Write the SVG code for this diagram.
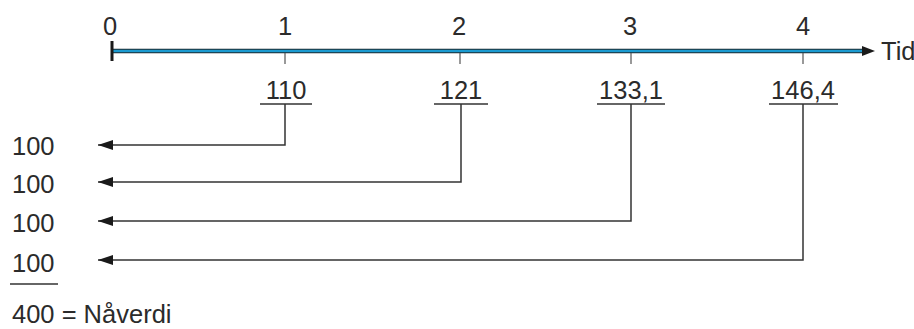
<svg xmlns="http://www.w3.org/2000/svg" width="914" height="329" viewBox="0 0 914 329">
  <style>
    text { font-family: "Liberation Sans", Arial, sans-serif; font-size: 25.5px; fill: #2b2b2b; }
    .mid { text-anchor: middle; }
    .rule { stroke: #333; stroke-width: 1.5; fill: none; }
    .link { stroke: #333; stroke-width: 1.5; fill: none; }
    .tick { stroke: #555; stroke-width: 1.2; }
  </style>
  <defs>
    <marker id="arrowL" viewBox="0 0 15 10" refX="15" refY="5" markerWidth="15" markerHeight="10" markerUnits="userSpaceOnUse" orient="auto">
      <path d="M0,0 L15,5 L0,10 Z" fill="#1a1a1a"/>
    </marker>
  </defs>

  <rect width="914" height="329" fill="#ffffff"/>

  <!-- time axis -->
  <g id="axis">
    <line x1="112" y1="51" x2="864" y2="51" stroke="#1b2a30" stroke-width="4.5"/>
    <line x1="112" y1="51" x2="864" y2="51" stroke="#1a9ad0" stroke-width="2.5"/>
    <path d="M862,46 L875,51 L862,56 Z" fill="#1a1a1a"/>
    <line x1="112" y1="41" x2="112" y2="61" stroke="#1a1a1a" stroke-width="3"/>
    <line class="tick" x1="285" y1="53" x2="285" y2="64"/>
    <line class="tick" x1="460" y1="53" x2="460" y2="64"/>
    <line class="tick" x1="631" y1="53" x2="631" y2="64"/>
    <line class="tick" x1="803" y1="53" x2="803" y2="64"/>
    <text class="mid" x="110" y="35">0</text>
    <text class="mid" x="285" y="35">1</text>
    <text class="mid" x="459" y="35">2</text>
    <text class="mid" x="630" y="35">3</text>
    <text class="mid" x="803" y="35">4</text>
    <text x="881" y="60">Tid</text>
  </g>

  <!-- future values -->
  <g id="fv1">
    <text class="mid" x="286" y="99">110</text>
    <line class="rule" x1="260" y1="104" x2="312" y2="104"/>
  </g>
  <g id="fv2">
    <text class="mid" x="461" y="99">121</text>
    <line class="rule" x1="434" y1="104" x2="488" y2="104"/>
  </g>
  <g id="fv3">
    <text class="mid" x="631" y="99">133,1</text>
    <line class="rule" x1="597" y1="104" x2="665" y2="104"/>
  </g>
  <g id="fv4">
    <text class="mid" x="803" y="99">146,4</text>
    <line class="rule" x1="769" y1="104" x2="838" y2="104"/>
  </g>

  <!-- present values -->
  <g id="pv1"><text x="12" y="155">100</text></g>
  <g id="pv2"><text x="12" y="193">100</text></g>
  <g id="pv3"><text x="12" y="232">100</text></g>
  <g id="pv4"><text x="12" y="272">100</text></g>
  <g id="total">
    <line class="rule" x1="10" y1="284" x2="58" y2="284"/>
    <text x="12" y="323">400 = Nåverdi</text>
  </g>

  <!-- discounting connectors -->
  <g id="connectors">
    <path class="link" d="M285,104 V145 H98" marker-end="url(#arrowL)"/>
    <path class="link" d="M461,104 V182 H98" marker-end="url(#arrowL)"/>
    <path class="link" d="M631,104 V221 H98" marker-end="url(#arrowL)"/>
    <path class="link" d="M803,104 V260 H98" marker-end="url(#arrowL)"/>
  </g>
</svg>
